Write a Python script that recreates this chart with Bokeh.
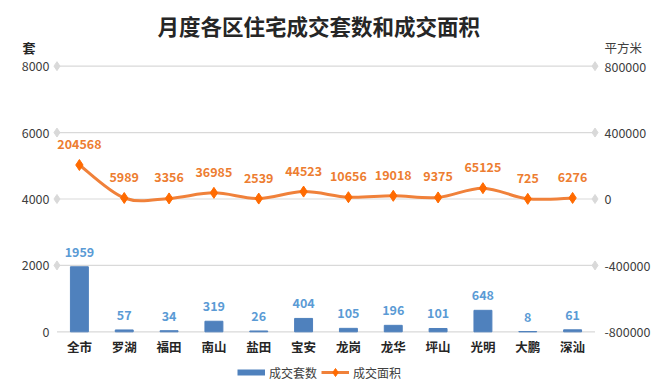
from bokeh.plotting import figure
from bokeh.models import (Range1d, FactorRange, LinearAxis, FixedTicker, Label,
                          Legend, LegendItem, ColumnDataSource, NumeralTickFormatter)
from bokeh.embed import file_html
from bokeh.resources import INLINE
from bokeh.core.properties import value

districts = ["全市", "罗湖", "福田", "南山", "盐田", "宝安", "龙岗", "龙华", "坪山", "光明", "大鹏", "深汕"]
units = [1959, 57, 34, 319, 26, 404, 105, 196, 101, 648, 8, 61]
area = [204568, 5989, 3356, 36985, 2539, 44523, 10656, 19018, 9375, 65125, 725, 6276]
left_ticks = [0, 2000, 4000, 6000, 8000]
right_ticks = [-800000, -400000, 0, 400000, 800000]
title_text = "月度各区住宅成交套数和成交面积"
left_unit = "套"
right_unit = "平方米"
series_names = ["成交套数", "成交面积"]

FONT = "Noto Sans CJK SC"
BAR = "#4F81BD"
LINE = "#F0813A"
MARK = "#FF6A00"

# vertical layout: frame covers the full height, data area mapped by the y range
Y_LO, Y_HI = -1736, 9976          # left-axis units (套)
UNIT_ROW = 8561                   # height of the unit captions, in left-axis units
TITLE_ROW = 9224
def to_area(v):
    return (v - 4000) * 200       # right-axis units (平方米)

n = len(districts)
p = figure(width=669, height=389,
           x_range=FactorRange(factors=districts, range_padding=0.1, range_padding_units="absolute"),
           y_range=Range1d(Y_LO, Y_HI),
           output_backend="svg", toolbar_location=None,
           min_border_left=52, min_border_right=70, min_border_top=0, min_border_bottom=0)
p.extra_y_ranges = {"area": Range1d(to_area(Y_LO), to_area(Y_HI))}
p.xgrid.visible = False
p.ygrid.visible = False
p.xaxis.visible = False
p.outline_line_color = None

# left axis (套) and its caption axis
p.yaxis[0].ticker = FixedTicker(ticks=left_ticks)
cap_left = LinearAxis(ticker=FixedTicker(ticks=[UNIT_ROW]),
                      major_label_overrides={UNIT_ROW: left_unit})
p.add_layout(cap_left, "left")
# right axis (平方米) with its caption as an extra labelled tick
ra = LinearAxis(y_range_name="area", ticker=FixedTicker(ticks=right_ticks + [to_area(UNIT_ROW)]),
                formatter=NumeralTickFormatter(format="0"),
                major_label_overrides={to_area(UNIT_ROW): right_unit})
p.add_layout(ra, "right")

for ax in (p.yaxis[0], cap_left, ra):
    ax.axis_line_color = None
    ax.major_tick_line_color = None
    ax.minor_tick_line_color = None
    ax.major_tick_out = 0
    ax.major_tick_in = 0
    ax.minor_tick_out = 0
    ax.minor_tick_in = 0
    ax.major_label_text_font = FONT
    ax.major_label_text_font_size = "12.5px"
    ax.major_label_text_color = "#404040"
p.yaxis[0].major_label_standoff = 3
ra.major_label_standoff = 5
cap_left.major_label_standoff = -17
cap_left.major_label_text_font_size = "13px"
cap_left.major_label_text_font_style = "bold"
cap_left.major_label_text_color = "#262626"

# gridlines with diamond ends
p.segment(x0=0, x1=n, y0=left_ticks, y1=left_ticks, line_color="#D9D9D9", line_width=1.2)
ends_y = left_ticks[1:]
p.scatter(x=[0] * len(ends_y) + [n] * len(ends_y), y=ends_y + ends_y, marker="diamond",
          size=9, color="#D9D9D9")

# bars
src = ColumnDataSource(dict(d=districts, u=units, ut=[str(v) for v in units],
                            a=area, at=[str(v) for v in area], z=[0] * n))
bars = p.vbar(x="d", top="u", width=0.4, source=src, color=BAR)
p.text(x="d", y="u", text="ut", source=src, text_align="center", text_baseline="middle",
       y_offset=-15, text_font=value(FONT), text_font_size="12.5px", text_font_style="bold",
       text_color="#5B9BD5")

# category labels under the bars (placed through the categorical scale)
p.text(x="d", y="z", text="d", source=src, text_align="center", text_baseline="middle",
       y_offset=15, text_font=value(FONT), text_font_size="12.5px", text_font_style="bold",
       text_color="#262626")

# smooth line (Catmull-Rom style bezier through the data points)
xs = [i + 0.5 for i in range(n)]
x0, y0, x1, y1, cx0, cy0, cx1, cy1 = [], [], [], [], [], [], [], []
for i in range(n - 1):
    im, ip, ipp = max(i - 1, 0), i + 1, min(i + 2, n - 1)
    x0.append(xs[i]); y0.append(area[i]); x1.append(xs[ip]); y1.append(area[ip])
    cx0.append(xs[i] + (xs[ip] - xs[im]) / 6); cy0.append(area[i] + (area[ip] - area[im]) / 6)
    cx1.append(xs[ip] - (xs[ipp] - xs[i]) / 6); cy1.append(area[ip] - (area[ipp] - area[i]) / 6)
curve = p.bezier(x0=x0, y0=y0, x1=x1, y1=y1, cx0=cx0, cy0=cy0, cx1=cx1, cy1=cy1,
                 y_range_name="area", line_color=LINE, line_width=3)
pts = p.scatter(x="d", y="a", source=src, y_range_name="area", marker="diamond", size=11,
                color=MARK)
p.text(x="d", y="a", text="at", source=src, y_range_name="area", text_align="center",
       text_baseline="middle", y_offset=-21, text_font=value(FONT), text_font_size="12.5px",
       text_font_style="bold", text_color="#ED7D31")

# chart title
p.add_layout(Label(x=(n - 1) / 2 + 0.5 - 0.16, y=TITLE_ROW, text=title_text, text_align="center",
                   text_baseline="middle", text_font=FONT, text_font_size="21.5px",
                   text_font_style="bold", text_color="#262626"))

# legend: the bar key is drawn as a thick flat swatch like the original
# (a key-only line renderer holding one undefined point, so it draws nothing in the plot)
bar_key = p.line(x=districts[:1], y=[float("nan")], line_color=BAR, line_width=6,
                 line_cap="butt")
legend = Legend(items=[LegendItem(label=series_names[0], renderers=[bar_key]),
                       LegendItem(label=series_names[1], renderers=[curve, pts])],
                orientation="horizontal", location=(185, 7), border_line_color=None,
                background_fill_alpha=0, padding=0, margin=0, spacing=4, glyph_width=28,
                glyph_height=20, label_standoff=4, label_height=20, label_text_font=FONT,
                label_text_font_size="12px", label_text_color="#404040")
p.add_layout(legend, "center")

open("out.html", "w").write(file_html(p, INLINE))
